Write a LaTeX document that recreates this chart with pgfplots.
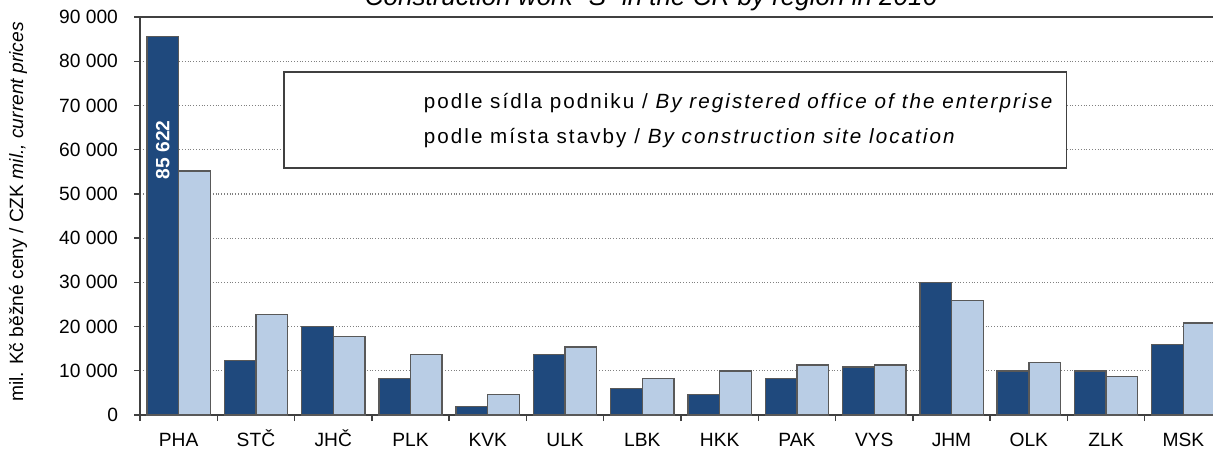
\documentclass[border=0pt]{standalone}
\usepackage{fontspec}
\setmainfont{Liberation Sans}
\usepackage{pgfplots}
\pgfplotsset{compat=1.18}
\definecolor{darkbar}{HTML}{1F497D}
\definecolor{lightbar}{HTML}{B9CDE5}
\definecolor{edgegray}{HTML}{595959}
\definecolor{axisgray}{HTML}{404040}
\begin{document}
\begin{tikzpicture}
\path[use as bounding box] (0pt,0pt) rectangle (606.5pt,226pt);
\clip (0pt,0pt) rectangle (606.5pt,226pt);
\begin{axis}[
    at={(70pt,18.5pt)}, anchor=south west,
    scale only axis, width=541pt, height=199pt,
    xmin=-0.5, xmax=13.5, ymin=0, ymax=90000,
    ybar=0pt, bar width=0.41,
    ytick={0,10000,...,90000},
    scaled y ticks=false,
    ymajorgrids,
    grid style={densely dotted, gray, line width=0.6pt},
    xtick={-0.5,0.5,...,13.5},
    xticklabels={},
    extra x ticks={0,...,13},
    extra x tick labels={PHA,STČ,JHČ,PLK,KVK,ULK,LBK,HKK,PAK,VYS,JHM,OLK,ZLK,MSK},
    extra x tick style={major tick length=0pt},
    xtick pos=bottom, ytick pos=left,
    tick align=outside,
    major tick length=3pt,
    tick style={axisgray, line width=0.7pt},
    axis line style={axisgray, line width=1.1pt},
    tick label style={font=\fontsize{9.6}{11}\selectfont, black},
    /pgf/number format/assume math mode=true,
    /pgf/number format/1000 sep={\ },
    xticklabel style={anchor=north, text height=7pt, text depth=0pt, yshift=-5pt},
    yticklabel style={xshift=-4.5pt},
    ylabel={mil. Kč běžné ceny / CZK \textit{mil., current prices}},
    every axis y label/.style={at={(axis description cs:-0.1128,0.51)}, rotate=90, anchor=center, font=\fontsize{9.6}{11}\selectfont},
    legend style={at={(0.1322,0.8643)}, anchor=north west, draw=axisgray, line width=0.8pt, fill=white,
        font=\fontsize{10.3}{12}\selectfont\addfontfeature{LetterSpace=10}, inner xsep=4pt, inner ysep=9pt, row sep=4pt},
    legend cell align=left,
    legend image post style={draw=none, fill=none},
]
\addplot[fill=darkbar, draw=edgegray, line width=0.7pt,
    legend image code/.code={\path[draw=none, fill=none] (0pt,0pt) rectangle (64pt,2pt);}] coordinates {
(0,85622) (1,12300) (2,20000) (3,8200) (4,1950) (5,13650) (6,5950) (7,4600)
(8,8200) (9,10900) (10,29900) (11,9950) (12,9950) (13,15900)};
\addlegendentry{podle sídla podniku / \textit{By registered office of the enterprise}}
\addplot[fill=lightbar, draw=edgegray, line width=0.7pt,
    legend image code/.code={\path[draw=none, fill=none] (0pt,0pt) rectangle (64pt,2pt);}] coordinates {
(0,55200) (1,22700) (2,17700) (3,13650) (4,4600) (5,15400) (6,8200) (7,9950)
(8,11300) (9,11300) (10,25850) (11,11850) (12,8650) (13,20800)};
\addlegendentry{podle místa stavby / \textit{By construction site location}}
\node[rotate=90, white, font=\bfseries\fontsize{9.6}{11}\selectfont] at (axis cs:-0.205,60000) {85 622};
\end{axis}
\node[anchor=base, font=\itshape\fontsize{13}{15}\selectfont] at (325.5pt,223.5pt) {Construction work "S" in the CR by region in 2016};
\end{tikzpicture}
\end{document}
